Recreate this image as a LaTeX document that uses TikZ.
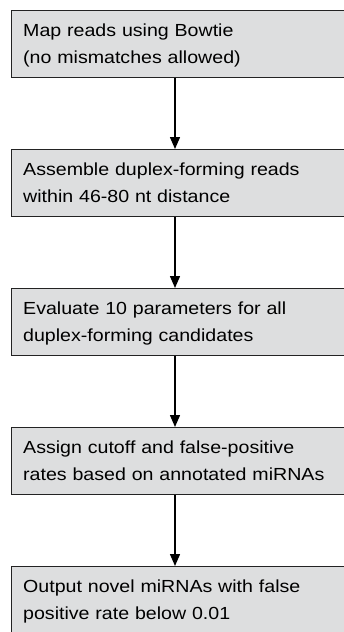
\documentclass[tikz,border=0pt]{standalone}
\usepackage{fontspec}
\setmainfont[FakeStretch=1.12]{Liberation Sans}
\usetikzlibrary{arrows.meta}
\definecolor{boxfill}{RGB}{221,222,223}
\definecolor{boxline}{RGB}{35,35,35}
\tikzset{
  stepbox/.style={draw=boxline, line width=1.4pt, fill=boxfill, rectangle,
    anchor=north west, minimum width=340pt, minimum height=67pt, inner sep=0pt},
  steptext/.style={anchor=base west, inner sep=0pt, text width=316pt, align=left,
    font=\fontsize{17.5pt}{27pt}\selectfont},
  flow/.style={line width=1.4pt, draw=black,
    -{Triangle[length=12pt, width=10pt]}}
}
\begin{document}
\begin{tikzpicture}[x=1pt, y=-1pt]
  \useasboundingbox (0,0) rectangle (344,632);
  \clip (0,0) rectangle (344,632);
  % process boxes, each with its two-line description
  \node[stepbox] (b1) at (11,10)  {};
  \node[stepbox] (b2) at (11,149) {};
  \node[stepbox] (b3) at (11,288) {};
  \node[stepbox] (b4) at (11,427) {};
  \node[stepbox] (b5) at (11,566) {};
  \node[steptext] (t1) at ([shift={(12,26)}]b1.north west) {Map reads using Bowtie\\(no mismatches allowed)};
  \node[steptext] (t2) at ([shift={(12,26)}]b2.north west) {Assemble duplex-forming reads\\within 46-80 nt distance};
  \node[steptext] (t3) at ([shift={(12,26)}]b3.north west) {Evaluate 10 parameters for all\\duplex-forming candidates};
  \node[steptext] (t4) at ([shift={(12,26)}]b4.north west) {Assign cutoff and false-positive\\rates based on annotated miRNAs};
  \node[steptext] (t5) at ([shift={(12,26)}]b5.north west) {Output novel miRNAs with false\\positive rate below 0.01};
  % connectors down the middle column
  \coordinate (ax) at (175,0);
  \foreach \a/\b in {b1/b2, b2/b3, b3/b4, b4/b5}
    \draw[flow] (ax |- \a.south) -- (ax |- \b.north);
\end{tikzpicture}
\end{document}
